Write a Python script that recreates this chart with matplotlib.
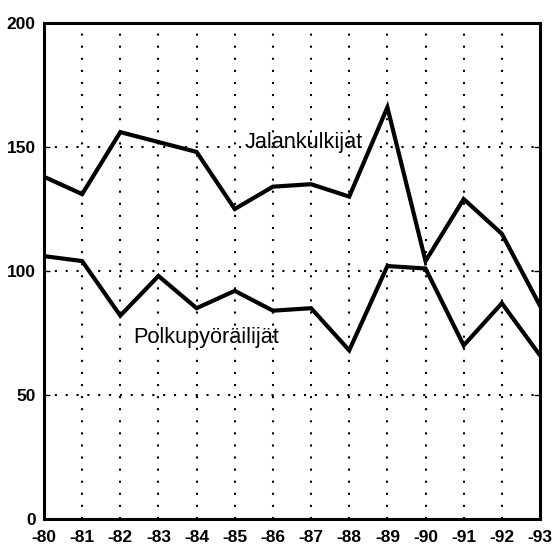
import matplotlib
matplotlib.use("Agg")
import matplotlib.pyplot as plt

years = ["-80", "-81", "-82", "-83", "-84", "-85", "-86", "-87", "-88", "-89", "-90", "-91", "-92", "-93"]
jalankulkijat = [138, 131, 156, 152, 148, 125, 134, 135, 130, 166, 104, 129, 115, 86]
polkupyorailijat = [106, 104, 82, 98, 85, 92, 84, 85, 68, 102, 101, 70, 87, 66]
yticks = [0, 50, 100, 150, 200]

plt.rcParams["font.family"] = ["Liberation Sans", "DejaVu Sans"]

fig = plt.figure(figsize=(5.53, 5.52), dpi=100)
ax = fig.add_axes([44/553, 33/552, 496/553, 496/552])
x = list(range(len(years)))
ax.plot(x, jalankulkijat, color="black", lw=3.0, solid_joinstyle="miter")
ax.plot(x, polkupyorailijat, color="black", lw=3.0, solid_joinstyle="miter")

ax.set_xlim(0, len(years) - 1)
ax.set_ylim(0, 200)
ax.set_xticks(x)
ax.set_xticklabels(years)
ax.set_yticks(yticks)
ax.set_yticklabels([str(v) for v in yticks])
for v in x[1:-1]:
    ax.axvline(v, color="black", lw=1.5, ls=(0, (1, 4.8)), zorder=0)
for v in yticks[1:-1]:
    ax.axhline(v, color="black", lw=1.5, ls=(0, (1, 4.2)), zorder=0)

ax.tick_params(axis="x", length=0, pad=8, labelsize=12.5)
ax.tick_params(axis="y", direction="in", length=4, width=1, pad=6, labelsize=12.5, right=True)
for lab in ax.get_xticklabels() + ax.get_yticklabels():
    lab.set_fontweight("bold")
for s in ax.spines.values():
    s.set_linewidth(2.2)

ax.text(6.8, 149.5, "Jalankulkijat", fontsize=15.6, ha="center", va="baseline")
ax.text(4.25, 71, "Polkupyöräilijät", fontsize=15.6, ha="center", va="baseline")

fig.savefig("out.png", dpi=100)
